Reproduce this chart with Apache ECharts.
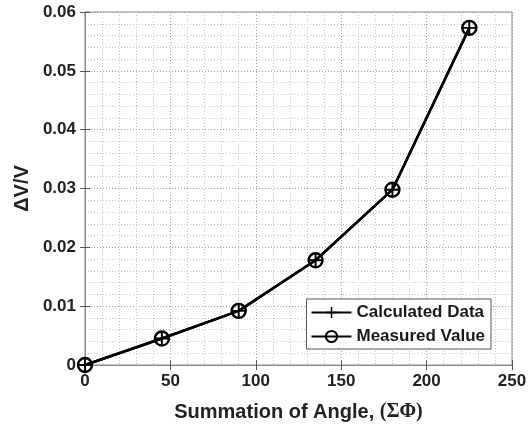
<!DOCTYPE html>
<html>
<head>
<meta charset="utf-8">
<script src="https://cdn.jsdelivr.net/npm/echarts@6/dist/echarts.min.js"></script>
<style>
  html, body { margin: 0; padding: 0; background: #fff; }
  #chart { width: 531px; height: 427px; }
</style>
</head>
<body>
<div id="chart"></div>
<script>
// data
const angles = [0, 45, 90, 135, 180, 225];
const calculated = [0, 0.0045, 0.0092, 0.0178, 0.0298, 0.0573];
const measured = [0, 0.0045, 0.0092, 0.0178, 0.0298, 0.0573];

const font = 'Arial, "Liberation Sans", sans-serif';
const plusPath = 'path://M-1.3,-10 L1.3,-10 L1.3,10 L-1.3,10 Z M-10,-1.3 L10,-1.3 L10,1.3 L-10,1.3 Z';

let chart = echarts.init(document.getElementById('chart'));

const gridLine = { show: true, lineStyle: { color: '#a0a0a0', type: [1, 2], width: 1 } };
const minorLine = { show: true, lineStyle: { color: '#c4c4c4', type: [1, 2], width: 1 } };

let option = {
  backgroundColor: '#fff',
  animation: false,
  grid: { left: 85, right: 19, top: 12, bottom: 62, outerBoundsMode: 'none', containLabel: false,
    show: true, borderColor: '#8a8a8a', borderWidth: 1 },
  legend: {
    right: 40, top: 299, orient: 'vertical',
    backgroundColor: '#fff', borderColor: '#555', borderWidth: 1,
    padding: [5, 6, 4, 4], itemGap: 7, itemWidth: 40, itemHeight: 14,
    textStyle: { fontFamily: font, fontWeight: 'bold', fontSize: 17, color: '#1a1a1a' },
    data: ['Calculated Data', 'Measured Value']
  },
  xAxis: [{
    type: 'value', min: 0, max: 250, interval: 50,
    name: 'Summation of Angle, {s|(ΣΦ)}', nameLocation: 'middle', nameGap: 37,
    nameTextStyle: { fontFamily: font, fontWeight: 'bold', fontSize: 20, color: '#222',
      rich: { s: { fontFamily: '"Liberation Serif", "DejaVu Serif", serif', fontSize: 20, color: '#222' } } },
    axisLine: { show: true, lineStyle: { color: '#8a8a8a' } },
    axisTick: { show: true, inside: true, length: 5, lineStyle: { color: '#555' } },
    minorTick: { show: false, splitNumber: 5 },
    axisLabel: { fontFamily: font, fontWeight: 'bold', fontSize: 17, color: '#222', margin: 8 },
    splitLine: gridLine,
    minorSplitLine: minorLine
  }, {
    type: 'value', min: 0, max: 250, interval: 50, position: 'top',
    axisLine: { show: true, lineStyle: { color: '#8a8a8a' } },
    axisTick: { show: true, inside: true, length: 5, lineStyle: { color: '#555' } },
    axisLabel: { show: false }, splitLine: { show: false }
  }],
  yAxis: [{
    type: 'value', min: 0, max: 0.06, interval: 0.01,
    name: 'ΔV/V', nameLocation: 'middle', nameGap: 50,
    nameTextStyle: { fontFamily: font, fontWeight: 'bold', fontSize: 20, color: '#222' },
    axisLine: { show: true, lineStyle: { color: '#8a8a8a' } },
    axisTick: { show: true, inside: true, length: 5, lineStyle: { color: '#555' } },
    minorTick: { show: false, splitNumber: 5 },
    axisLabel: { fontFamily: font, fontWeight: 'bold', fontSize: 17, color: '#222', margin: 9,
      formatter: v => v === 0 ? '0' : v.toFixed(2) },
    splitLine: gridLine,
    minorSplitLine: minorLine
  }, {
    type: 'value', min: 0, max: 0.06, interval: 0.01, position: 'right',
    axisLine: { show: true, lineStyle: { color: '#8a8a8a' } },
    axisTick: { show: true, inside: true, length: 5, lineStyle: { color: '#555' } },
    axisLabel: { show: false }, splitLine: { show: false }
  }],
  series: [
    {
      name: 'Measured Value', type: 'line',
      data: angles.map((a, i) => [a, measured[i]]),
      symbol: 'circle', symbolSize: 14, showAllSymbol: true,
      lineStyle: { color: '#000', width: 2.5 },
      itemStyle: { color: 'rgba(0,0,0,0)', borderColor: '#000', borderWidth: 2.4 },
      z: 3
    },
    {
      name: 'Calculated Data', type: 'line',
      data: angles.map((a, i) => [a, calculated[i]]),
      symbol: plusPath, symbolSize: 15, showAllSymbol: true,
      lineStyle: { color: '#000', width: 2.5 },
      itemStyle: { color: '#000' },
      z: 4
    }
  ]
};
chart.setOption(option);
</script>
</body>
</html>
